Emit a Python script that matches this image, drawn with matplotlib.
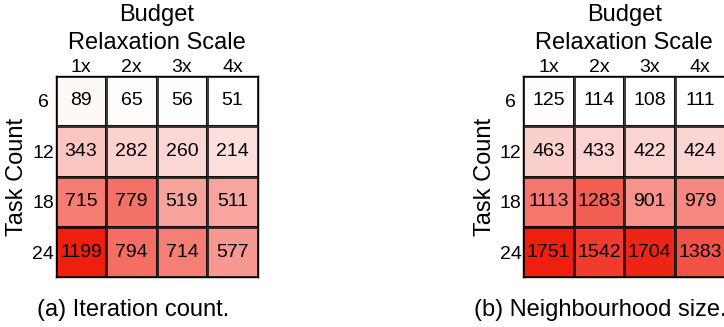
import numpy as np
import matplotlib
matplotlib.use('Agg')
import matplotlib.pyplot as plt
from matplotlib.colors import LinearSegmentedColormap, Normalize

plt.rcParams['font.family'] = ['Liberation Sans', 'DejaVu Sans']

# 数据
task_counts = ['6', '12', '18', '24']
scales = ['1x', '2x', '3x', '4x']
iteration_count = [[89, 65, 56, 51],
                   [343, 282, 260, 214],
                   [715, 779, 519, 511],
                   [1199, 794, 714, 577]]
neighbourhood_size = [[125, 114, 108, 111],
                      [463, 433, 422, 424],
                      [1113, 1283, 901, 979],
                      [1751, 1542, 1704, 1383]]
captions = ['(a) Iteration count.', '(b) Neighbourhood size.']

W, H = 724, 327
cmap = LinearSegmentedColormap.from_list('wr', ['#ffffff', '#ee1f0f'])

fig = plt.figure(figsize=(W / 100, H / 100), dpi=100)

def px_x(x):
    return x / W

def px_y(y):
    return (H - y) / H

grid_left = [55.7, 523.3]
grid_top, grid_bot = 75.7, 277.3
cell_w = 50.5

for k, data in enumerate([iteration_count, neighbourhood_size]):
    z = np.array(data)
    gl = grid_left[k]
    ax = fig.add_axes([px_x(gl), px_y(grid_bot), 4 * cell_w / W, (grid_bot - grid_top) / H])
    norm = Normalize(vmin=z.min(), vmax=z.max())
    ax.pcolormesh(z, cmap=cmap, norm=norm, edgecolors=[(0, 0, 0, 0.75)], linewidth=1.0)
    ax.set_xlim(0, 4)
    ax.set_ylim(4, 0)
    for i in range(z.shape[0]):
        for j in range(z.shape[1]):
            ax.text(j + 0.5, i + 0.5, str(z[i, j]), ha='center', va='center',
                    fontsize=14, color='black')
    ax.xaxis.tick_top()
    ax.set_xticks(np.arange(4) + 0.5)
    ax.set_xticklabels(scales, fontsize=14)
    ax.set_yticks(np.arange(4) + 0.5)
    ax.set_yticklabels(task_counts, fontsize=14, ha='center')
    ax.tick_params(axis='x', length=0, pad=0)
    ax.tick_params(axis='y', length=0, pad=9.1)
    for s in ax.spines.values():
        s.set_color('black')
        s.set_linewidth(1.0)

    cx = gl + 2 * cell_w
    fig.text(px_x(cx), px_y(20.7), 'Budget', ha='center', va='baseline', fontsize=17)
    fig.text(px_x(cx), px_y(49.3), 'Relaxation Scale', ha='center', va='baseline', fontsize=17)
    fig.text(px_x(gl - 38.2), px_y((grid_top + grid_bot) / 2), 'Task Count',
             rotation=90, ha='center', va='center', fontsize=17)
    fig.text(px_x(cx - 24), px_y(316), captions[k], ha='center', va='baseline', fontsize=17)

fig.savefig('out.png', dpi=100)
